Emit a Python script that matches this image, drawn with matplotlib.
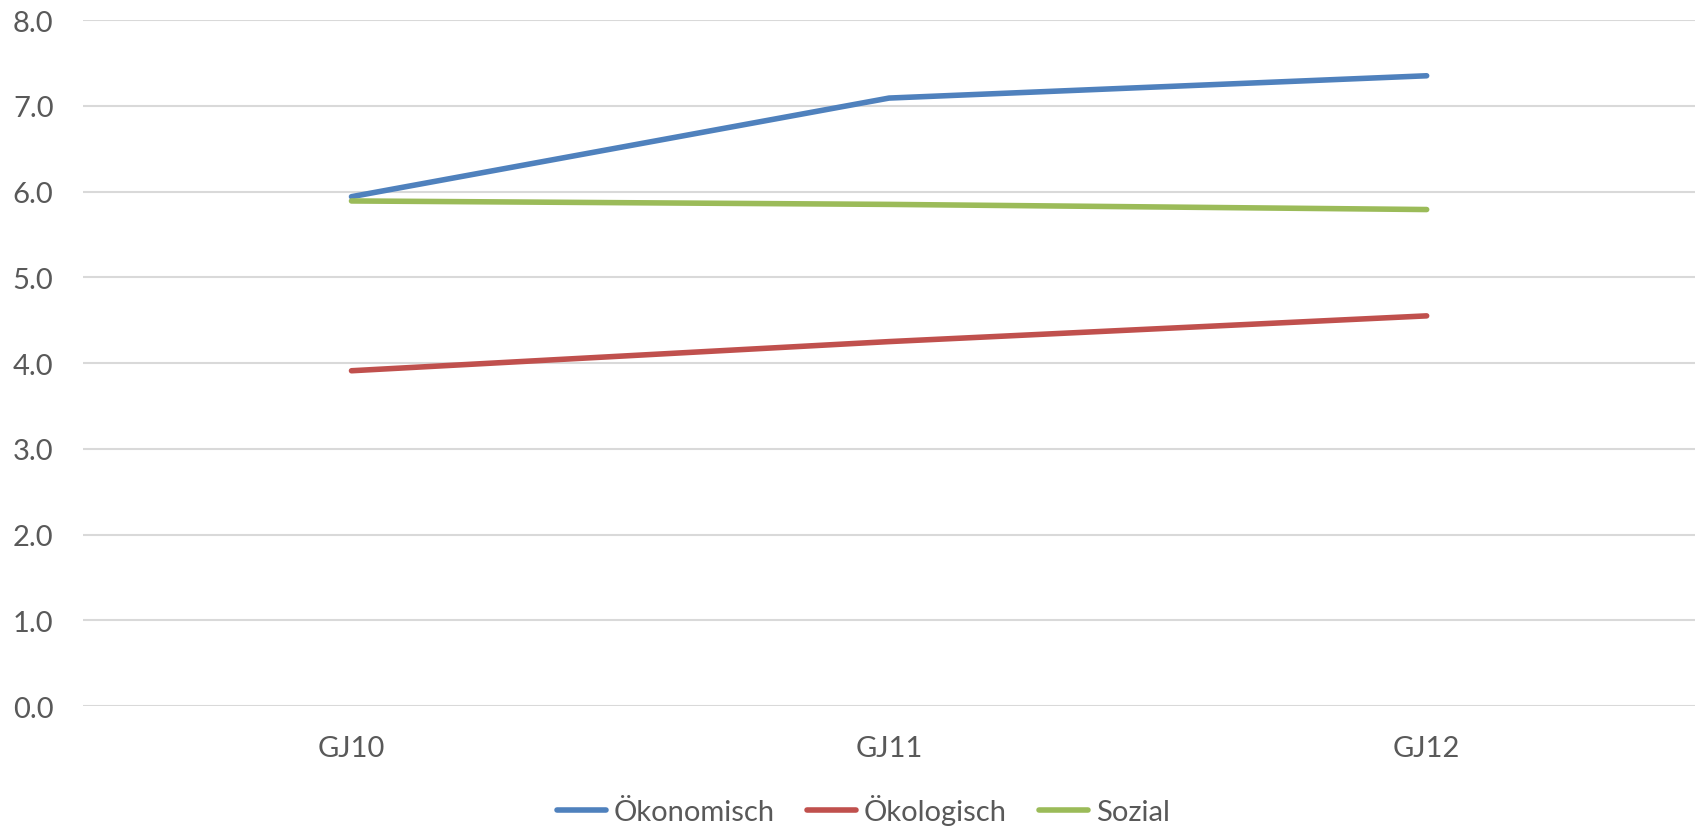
import matplotlib
matplotlib.use("Agg")
import matplotlib.pyplot as plt

categories = ["GJ10", "GJ11", "GJ12"]
oekonomisch = [5.94, 7.09, 7.35]
oekologisch = [3.91, 4.25, 4.55]
sozial = [5.89, 5.85, 5.79]
series_names = ["Ökonomisch", "Ökologisch", "Sozial"]
colors = ["#4f81bd", "#c0504d", "#9bbb59"]
y_ticks = [0, 1, 2, 3, 4, 5, 6, 7, 8]

plt.rcParams['font.family'] = ['Lato', 'DejaVu Sans']

fig = plt.figure(figsize=(16.98, 8.28), dpi=100)
ax = fig.add_axes([0.0487, 0.1461, 0.9498, 0.8285])

x = [0.5, 1.5, 2.5]
for vals, name, c in zip([oekonomisch, oekologisch, sozial], series_names, colors):
    ax.plot(x, vals, color=c, lw=4.0, solid_capstyle='round', label=name)

ax.set_xlim(0, 3)
ax.set_ylim(0, 8)
ax.set_xticks(x)
ax.set_xticklabels(categories)
ax.set_yticks(y_ticks)
ax.set_yticklabels([f"{v:.1f}" for v in y_ticks])
ax.grid(axis='y', color='#d9d9d9', lw=1.5)
ax.set_axisbelow(True)
for s in ax.spines.values():
    s.set_visible(False)
ax.tick_params(axis='both', length=0, labelsize=21, colors='#595959')
ax.tick_params(axis='y', pad=21)
ax.tick_params(axis='x', pad=21)

leg = fig.legend(loc='center', bbox_to_anchor=(863/1698, 1-811/828), ncol=3,
                 frameon=False, fontsize=21, handlelength=1.7, handletextpad=0.25,
                 columnspacing=1.1)
for t in leg.get_texts():
    t.set_color('#595959')

fig.savefig("out.png", dpi=100, facecolor='white')
